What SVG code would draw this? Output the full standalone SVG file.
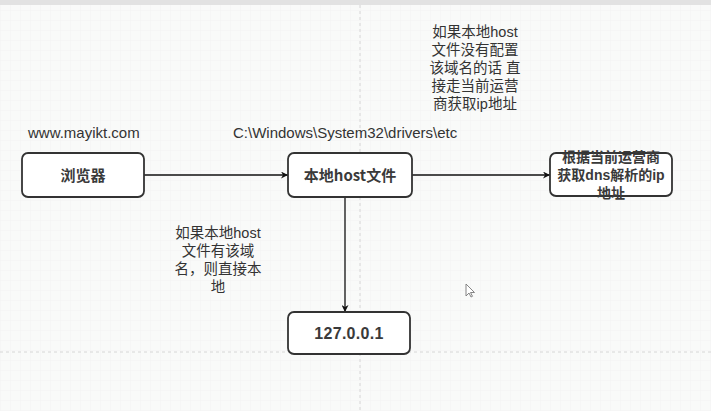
<svg xmlns="http://www.w3.org/2000/svg" width="711" height="411" viewBox="0 0 711 411">
  <defs>
    <pattern id="grid" width="10" height="10" patternUnits="userSpaceOnUse">
      <path d="M10 0 L0 0 L0 10" fill="none" stroke="#ececec" stroke-width="0.6"/>
    </pattern>
    <marker id="arrow" viewBox="0 0 10 10" refX="10" refY="5" markerWidth="8" markerHeight="7" markerUnits="userSpaceOnUse" orient="auto">
      <path d="M0 0 L10 5 L0 10 L3 5 Z" fill="#111"/>
    </marker>
  </defs>
  <style>
    .box { fill: #ffffff; stroke: #333333; stroke-width: 1.8; }
    .ntext { font-family: "Noto Sans CJK SC", "Liberation Sans", sans-serif; font-size: 15px; font-weight: bold; fill: #3a3a3a; text-anchor: middle; }
    .small { font-family: "Liberation Sans", "Noto Sans CJK SC", sans-serif; font-size: 14px; }
    .num { font-family: "Liberation Sans", sans-serif; font-size: 16px; letter-spacing: 0.3px; }
    .label { font-family: "Liberation Sans", "Noto Sans CJK SC", sans-serif; font-size: 14.5px; fill: #333333; text-anchor: middle; }
    .plain { font-family: "Liberation Sans", "Noto Sans CJK SC", sans-serif; font-size: 15px; fill: #333333; }
    .edge { fill: none; stroke: #111111; stroke-width: 1.3; marker-end: url(#arrow); }
    .page { stroke: #d6d6d6; stroke-width: 1; stroke-dasharray: 3 3; }
  </style>

  <rect x="0" y="0" width="711" height="411" fill="#f9faf9"/>
  <rect x="0" y="0" width="711" height="411" fill="url(#grid)"/>
  <rect x="0" y="0" width="711" height="5" fill="#e2e2e2"/>
  <line class="page" x1="360" y1="5" x2="360" y2="411"/>
  <line class="page" x1="0" y1="352" x2="711" y2="352"/>

  <g id="connectors">
    <line class="edge" x1="144" y1="175" x2="288" y2="175"/>
    <line class="edge" x1="412" y1="175" x2="550" y2="175"/>
    <line class="edge" x1="345" y1="197" x2="345" y2="312"/>
  </g>

  <g id="node-browser">
    <rect class="box" x="22" y="153" width="122" height="44" rx="6"/>
    <text class="ntext" x="83" y="181">浏览器</text>
  </g>

  <g id="node-hostfile">
    <rect class="box" x="288" y="153" width="124" height="44" rx="6"/>
    <text class="ntext" x="350" y="181">本地host文件</text>
  </g>

  <g id="node-dns">
    <rect class="box" x="550" y="153" width="122" height="43" rx="6"/>
    <text class="ntext small" x="611" y="162">根据当前运营商</text>
    <text class="ntext small" x="611" y="180">获取dns解析的ip</text>
    <text class="ntext small" x="611" y="198">地址</text>
  </g>

  <g id="node-localhost">
    <rect class="box" x="288" y="312" width="122" height="42" rx="6"/>
    <text class="ntext num" x="349" y="339">127.0.0.1</text>
  </g>

  <g id="label-url">
    <text class="plain" x="28" y="138">www.mayikt.com</text>
  </g>
  <g id="label-path">
    <text class="plain" x="233" y="138">C:\Windows\System32\drivers\etc</text>
  </g>

  <g id="label-notconfigured">
    <text class="label" x="475" y="37">如果本地host</text>
    <text class="label" x="475" y="55">文件没有配置</text>
    <text class="label" x="475" y="73">该域名的话 直</text>
    <text class="label" x="475" y="91">接走当前运营</text>
    <text class="label" x="475" y="109">商获取ip地址</text>
  </g>

  <g id="label-configured">
    <text class="label" x="218" y="238">如果本地host</text>
    <text class="label" x="218" y="256">文件有该域</text>
    <text class="label" x="218" y="274">名，则直接本</text>
    <text class="label" x="218" y="292">地</text>
  </g>

  <path d="M466 284 L466 296 L469 293 L471 297 L472.5 296.3 L470.5 292.5 L474.5 292.5 Z" fill="#ffffff" stroke="#777777" stroke-width="0.9"/>
</svg>
